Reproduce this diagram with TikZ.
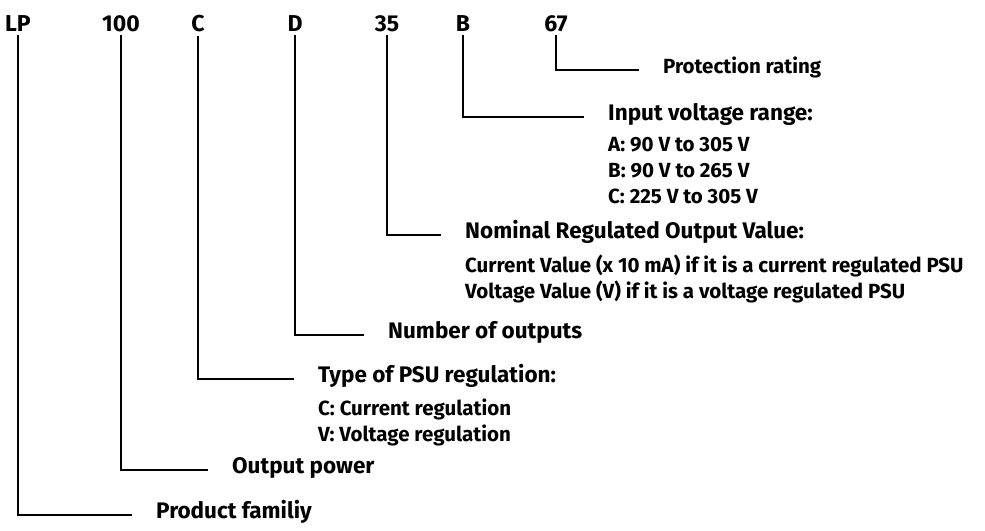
\documentclass[tikz,border=0pt]{standalone}
\usepackage{fontspec}
\setmainfont{Fira Sans}
\usetikzlibrary{positioning}
\tikzset{
  code/.style={font=\fontsize{23}{23}\selectfont\bfseries, inner sep=3pt},
  title/.style={anchor=west, inner sep=0pt, font=\fontsize{22.5}{22.5}\selectfont\bfseries, text height=1.4ex, text depth=.2ex},
  sub/.style={anchor=north west, align=left, inner sep=0pt, font=\fontsize{20.5}{26}\selectfont\bfseries},
  leader/.style={line width=2.8pt, shorten >=24pt}
}
\begin{document}
\begin{tikzpicture}[x=1pt, y=-1pt]
  \useasboundingbox (0,0) rectangle (985,530);
  \node[code] (LP) at (18, 24) {LP};
  \node[code] (Pow) at (121, 24) {100};
  \node[code] (Reg) at (198, 24) {C};
  \node[code] (Out) at (295, 24) {D};
  \node[code] (Val) at (387, 24) {35};
  \node[code] (Inp) at (463, 24) {B};
  \node[code] (IP) at (556, 24) {67};
  \node[title, font=\fontsize{20.5}{20.5}\selectfont\bfseries] (IPt) at (663, 70) {Protection rating};
  \node[title] (Inpt) at (608, 117) {Input voltage range:};
  \node[sub, below right=16pt and 0pt of Inpt.south west] (Inps) {A: 90 V to 305 V\\B: 90 V to 265 V\\C: 225 V to 305 V};
  \node[title] (Valt) at (465, 235) {Nominal Regulated Output Value:};
  \node[sub, below right=15pt and 0pt of Valt.south west] (Vals) {Current Value (x 10 mA) if it is a current regulated PSU\\Voltage Value (V) if it is a voltage regulated PSU};
  \node[title] (Outt) at (388, 335) {Number of outputs};
  \node[title] (Regt) at (318, 379) {Type of PSU regulation:};
  \node[sub, below right=15pt and 0pt of Regt.south west] (Regs) {C: Current regulation\\V: Voltage regulation};
  \node[title] (Powt) at (232, 470) {Output power};
  \node[title] (LPt) at (156, 515) {Product familiy};
  \draw[leader] (IP.south) |- (IPt.west);
  \draw[leader] (Inp.south) |- (Inpt.west);
  \draw[leader] (Val.south) |- (Valt.west);
  \draw[leader] (Out.south) |- (Outt.west);
  \draw[leader] (Reg.south) |- (Regt.west);
  \draw[leader] (Pow.south) |- (Powt.west);
  \draw[leader] (LP.south) |- (LPt.west);
\end{tikzpicture}
\end{document}
